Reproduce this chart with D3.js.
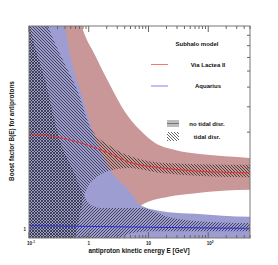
<!DOCTYPE html>
<html><head><meta charset="utf-8">
<script src="https://cdn.jsdelivr.net/npm/d3@7"></script>
<style>body{margin:0;background:#fff}svg{display:block}text{font-family:"Liberation Sans",Arial,sans-serif}</style>
</head><body><svg id="c" width="278" height="265"></svg>
<script>
// ---------- data (E in GeV, B = boost factor) ----------
const xTickValues = [0.1, 1, 10, 100];
const xTickBase = ["10", "1", "10", "10"];
const xTickExp = ["-1", "", "", "2"];
const yTickValues = [1];
const yTickLabels = ["1"];

const vl2Line = [[0.1,2.94],[0.345,2.81],[1.29,2.51],[2.13,2.37],[4.6,2.14],[16.5,2.0],[61,1.93],[500,1.89]];
const aqLine  = [[0.1,1.038],[1,1.03],[10,1.02],[100,1.012],[500,1.008]];

// no tidal disruption bands
const vl2Upper = [[0.08,60],[0.5,17],[0.771,9.89],[1.27,7.2],[2.27,5.12],[4.05,3.77],[7.21,3.07],[12.9,2.65],[27.8,2.45],[72.8,2.34],[500,2.24],[600,2.23]];
const vl2Lower = [[0.08,0.8],[2,1.0],[5,1.18],[7.6,1.31],[21.7,1.44],[61,1.50],[500,1.56],[600,1.56]];
const aqUpper  = [[0.08,40],[0.3,14],[0.4,9.9],[0.51,6.8],[0.75,4.68],[1.10,3.18],[2.13,2.02],[4.6,1.56],[7.6,1.30],[21.7,1.21],[61,1.19],[500,1.15],[600,1.15]];
const aqLower  = [[0.08,0.8],[600,0.8]];

// tidal disruption bands
const vl2TidUpper = [[0.08,20],[0.15,14],[0.21,10],[0.37,6.8],[0.67,4.68],[1.06,3.18],[2.39,2.54],[6.05,2.24],[21.7,2.11],[500,2.07],[600,2.07]];
const vl2TidLower = [[0.08,0.5],[0.49,0.70],[0.59,0.90],[0.72,1.21],[0.91,1.56],[1.29,1.78],[2.13,1.93],[4.6,2.0],[16.5,1.89],[500,1.80],[600,1.80]];
const aqTidUpper  = [[0.08,15],[0.104,9.9],[0.186,5.42],[0.33,2.74],[0.59,1.85],[0.87,1.42],[1.10,1.31],[1.62,1.27],[7.6,1.27],[21.7,1.146],[61,1.095],[500,1.07],[600,1.07]];
const aqTidLower  = [[0.08,0.8],[2,0.85],[5,0.95],[10,0.975],[600,0.975]];

const legendEntries = ["Via Lactea II", "Aquarius"];
const legendColors = ["#f07878", "#8080f0"];

// ---------- layout ----------
const L = 29, R = 250, T = 26, B = 238;
const svg = d3.select("#c");
const x = d3.scaleLog().domain([0.1, 500]).range([L, R]);
const y = d3.scaleLog().domain([0.903, 10]).range([B, T]);

const defs = svg.append("defs");
defs.append("clipPath").attr("id","plot").append("rect").attr("x",L).attr("y",T).attr("width",R-L).attr("height",B-T);
function hatch(id, d){
  defs.append("pattern").attr("id",id).attr("width",3).attr("height",3).attr("patternUnits","userSpaceOnUse")
    .append("path").attr("d",d).attr("stroke","#111").attr("stroke-width",0.65).attr("fill","none");
}
hatch("hb","M-1,-1L4,4M-1,2L1,4M2,-1L4,1");
hatch("hf","M-1,4L4,-1M-1,1L1,-1M2,4L4,2");

const curve = d3.curveMonotoneX;
const below = pts => d3.area().x(d=>x(d[0])).y0(2000).y1(d=>y(d[1])).curve(curve)(pts);
const above = pts => d3.area().x(d=>x(d[0])).y0(-2000).y1(d=>y(d[1])).curve(curve)(pts);
const line = pts => d3.line().x(d=>x(d[0])).y(d=>y(d[1])).curve(curve)(pts);

const g = svg.append("g").attr("clip-path","url(#plot)");
let nid = 0;
function band(upper, lower, fill){
  const id = "cl"+(nid++);
  defs.append("clipPath").attr("id",id).append("path").attr("d",above(lower));
  g.append("g").attr("clip-path","url(#"+id+")").append("path").attr("d",below(upper)).attr("fill",fill);
}
band(vl2Upper, vl2Lower, "#c99797");
band(aqUpper, aqLower, "#9d9dd2");
band(vl2TidUpper, vl2TidLower, "url(#hb)");
band(aqTidUpper, aqTidLower, "url(#hf)");
g.append("path").attr("d",line(vl2Line)).attr("fill","none").attr("stroke","#e8302c").attr("stroke-width",1);
g.append("path").attr("d",line(aqLine)).attr("fill","none").attr("stroke","#2a2ae8").attr("stroke-width",1);

// ---------- frame & ticks ----------
const ax = svg.append("g").attr("stroke","#666").attr("stroke-width",1);
ax.append("rect").attr("x",L).attr("y",T).attr("width",R-L).attr("height",B-T).attr("fill","none").attr("stroke","#777");
const xMinor = [];
[0.1,1,10,100].forEach(d=>{for(let k=2;k<=9;k++){const v=d*k; if(v<=500) xMinor.push(v);}});
xMinor.forEach(v=>{
  ax.append("line").attr("x1",x(v)).attr("x2",x(v)).attr("y1",B).attr("y2",B-3);
  ax.append("line").attr("x1",x(v)).attr("x2",x(v)).attr("y1",T).attr("y2",T+3);
});
xTickValues.forEach(v=>{
  ax.append("line").attr("x1",x(v)).attr("x2",x(v)).attr("y1",B).attr("y2",B-6);
  ax.append("line").attr("x1",x(v)).attr("x2",x(v)).attr("y1",T).attr("y2",T+6);
});
const yMinor = [2,3,4,5,6,7,8,9];
yMinor.forEach(v=>{
  ax.append("line").attr("x1",L).attr("x2",L+3).attr("y1",y(v)).attr("y2",y(v));
  ax.append("line").attr("x1",R).attr("x2",R-3).attr("y1",y(v)).attr("y2",y(v));
});
yTickValues.forEach(v=>{
  ax.append("line").attr("x1",L).attr("x2",L+6).attr("y1",y(v)).attr("y2",y(v));
  ax.append("line").attr("x1",R).attr("x2",R-6).attr("y1",y(v)).attr("y2",y(v));
});

// tick labels
xTickValues.forEach((v,i)=>{
  const t = svg.append("text").attr("x",x(v)+ (xTickExp[i]?2:0)).attr("y",244.5).attr("text-anchor","middle")
    .attr("font-size",4.5).attr("font-weight","bold").attr("fill","#222");
  t.append("tspan").text(xTickBase[i]);
  if(xTickExp[i]) t.append("tspan").attr("dy",-1.8).attr("font-size",3.2).text(xTickExp[i]);
});
yTickValues.forEach((v,i)=>{
  svg.append("text").attr("x",26).attr("y",y(v)+1.8).attr("text-anchor","end")
    .attr("font-size",4.5).attr("font-weight","bold").attr("fill","#222").text(yTickLabels[i]);
});

// axis titles
svg.append("text").attr("x",139).attr("y",252.5).attr("text-anchor","middle")
  .attr("font-size",6.4).attr("font-weight","bold").attr("fill","#111").text("antiproton kinetic energy E [GeV]");
svg.append("text").attr("transform","translate(14,131) rotate(-90)").attr("text-anchor","middle")
  .attr("font-size",6.4).attr("font-weight","bold").attr("fill","#111").text("Boost factor B(E) for antiprotons");

// ---------- legend ----------
const lg = svg.append("g").attr("font-size",6).attr("font-weight","bold").attr("fill","#111");
lg.append("text").attr("x",197).attr("y",46).attr("text-anchor","middle").text("Subhalo model");
legendEntries.forEach((name,i)=>{
  const yy = 64.5 + i*21.5;
  svg.append("line").attr("x1",151).attr("x2",168).attr("y1",yy).attr("y2",yy).attr("stroke",legendColors[i]).attr("stroke-width",1);
  lg.append("text").attr("x",208).attr("y",yy+2.2).attr("text-anchor","middle").text(name);
});
svg.append("rect").attr("x",167).attr("y",120).attr("width",12).attr("height",7).attr("fill","#bdbdbd");
svg.append("line").attr("x1",167).attr("x2",179).attr("y1",123.5).attr("y2",123.5).attr("stroke","#777").attr("stroke-width",1);
lg.append("text").attr("x",207).attr("y",126).attr("text-anchor","middle").text("no tidal disr.");
svg.append("rect").attr("x",167).attr("y",132).attr("width",12).attr("height",9).attr("fill","url(#hb)");
lg.append("text").attr("x",207).attr("y",139).attr("text-anchor","middle").text("tidal disr.");
</script></body></html>
